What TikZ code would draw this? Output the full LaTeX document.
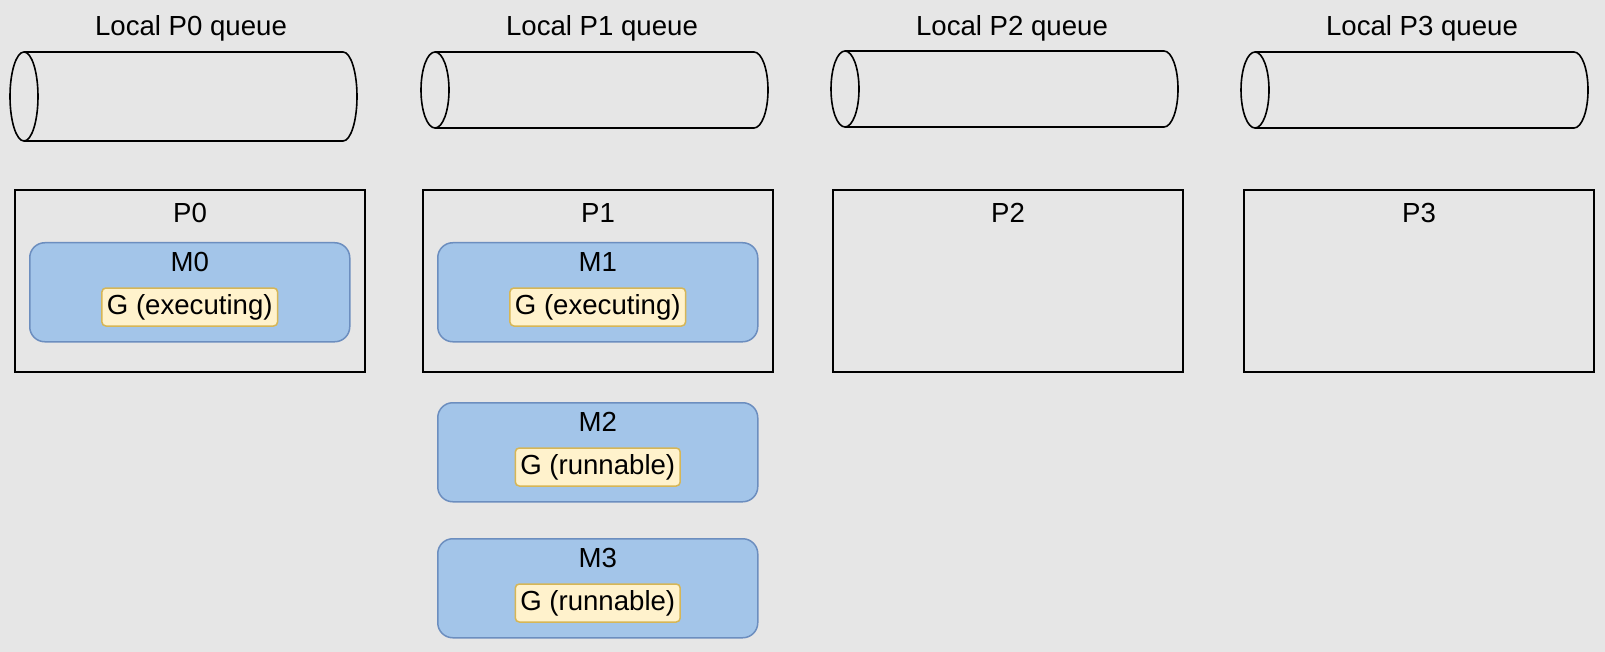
\documentclass[tikz,border=0pt]{standalone}
\usepackage{fontspec}
\setmainfont{Liberation Sans}
\usepackage{xcolor}
\definecolor{bggray}{HTML}{E6E6E6}
\definecolor{mfill}{HTML}{A3C5E9}
\definecolor{mdraw}{HTML}{6C8EBF}
\definecolor{gfill}{HTML}{FFF2CC}
\definecolor{gdraw}{HTML}{D6B656}

\begin{document}
\begin{tikzpicture}[x=0.5pt, y=-0.5pt,
  every node/.style={font=\fontsize{13.8pt}{16pt}\selectfont},
  queue/.style={draw=black, line width=0.8pt},
  pbox/.style={draw=black, line width=1pt, minimum width=175pt, minimum height=91pt, anchor=north west, inner sep=0pt},
  mbox/.style={draw=mdraw, fill=mfill, line width=0.75pt, rounded corners=7.5pt, minimum width=160pt, minimum height=49.5pt, anchor=north west, inner sep=0pt},
  gbox/.style={draw=gdraw, fill=gfill, line width=0.75pt, rounded corners=2pt, inner xsep=2.5pt, inner ysep=0pt, minimum height=19pt}]
\fill[bggray] (0,0) rectangle (1605,652);
\useasboundingbox (0,0) rectangle (1605,652);

% local run queues
\foreach \n/\x/\t/\b/\c in {0/10/52/141/191, 1/421/52/128/602, 2/831/51/127/1012, 3/1241/52/128/1422}{
  \draw[queue] (\x+14,\t) -- (\x+333,\t) arc[start angle=-90, end angle=90, x radius=14, y radius={(\b-\t)/2}] -- (\x+14,\b);
  \draw[queue] (\x+14,{(\t+\b)/2}) ellipse [x radius=14, y radius={(\b-\t)/2}];
  \node (q\n) at (\c,28) {Local P\n{} queue};
}

% processors
\foreach \n/\x in {0/14, 1/422, 2/832, 3/1243}{
  \node[pbox] (p\n) at (\x,189) {};
  \node (p\n name) at ([yshift=-12pt]p\n.north) {P\n};
}

% machines with their goroutine
\foreach \n/\x/\y/\s in {0/29/242/executing, 1/437/242/executing, 2/437/402/runnable, 3/437/538/runnable}{
  \node[mbox] (m\n) at (\x,\y) {};
  \node (m\n name) at ([yshift=-10pt]m\n.north) {M\n};
  \node[gbox] (g\n) at ([yshift=-32.5pt]m\n.north) {G (\s)};
}
\end{tikzpicture}
\end{document}
